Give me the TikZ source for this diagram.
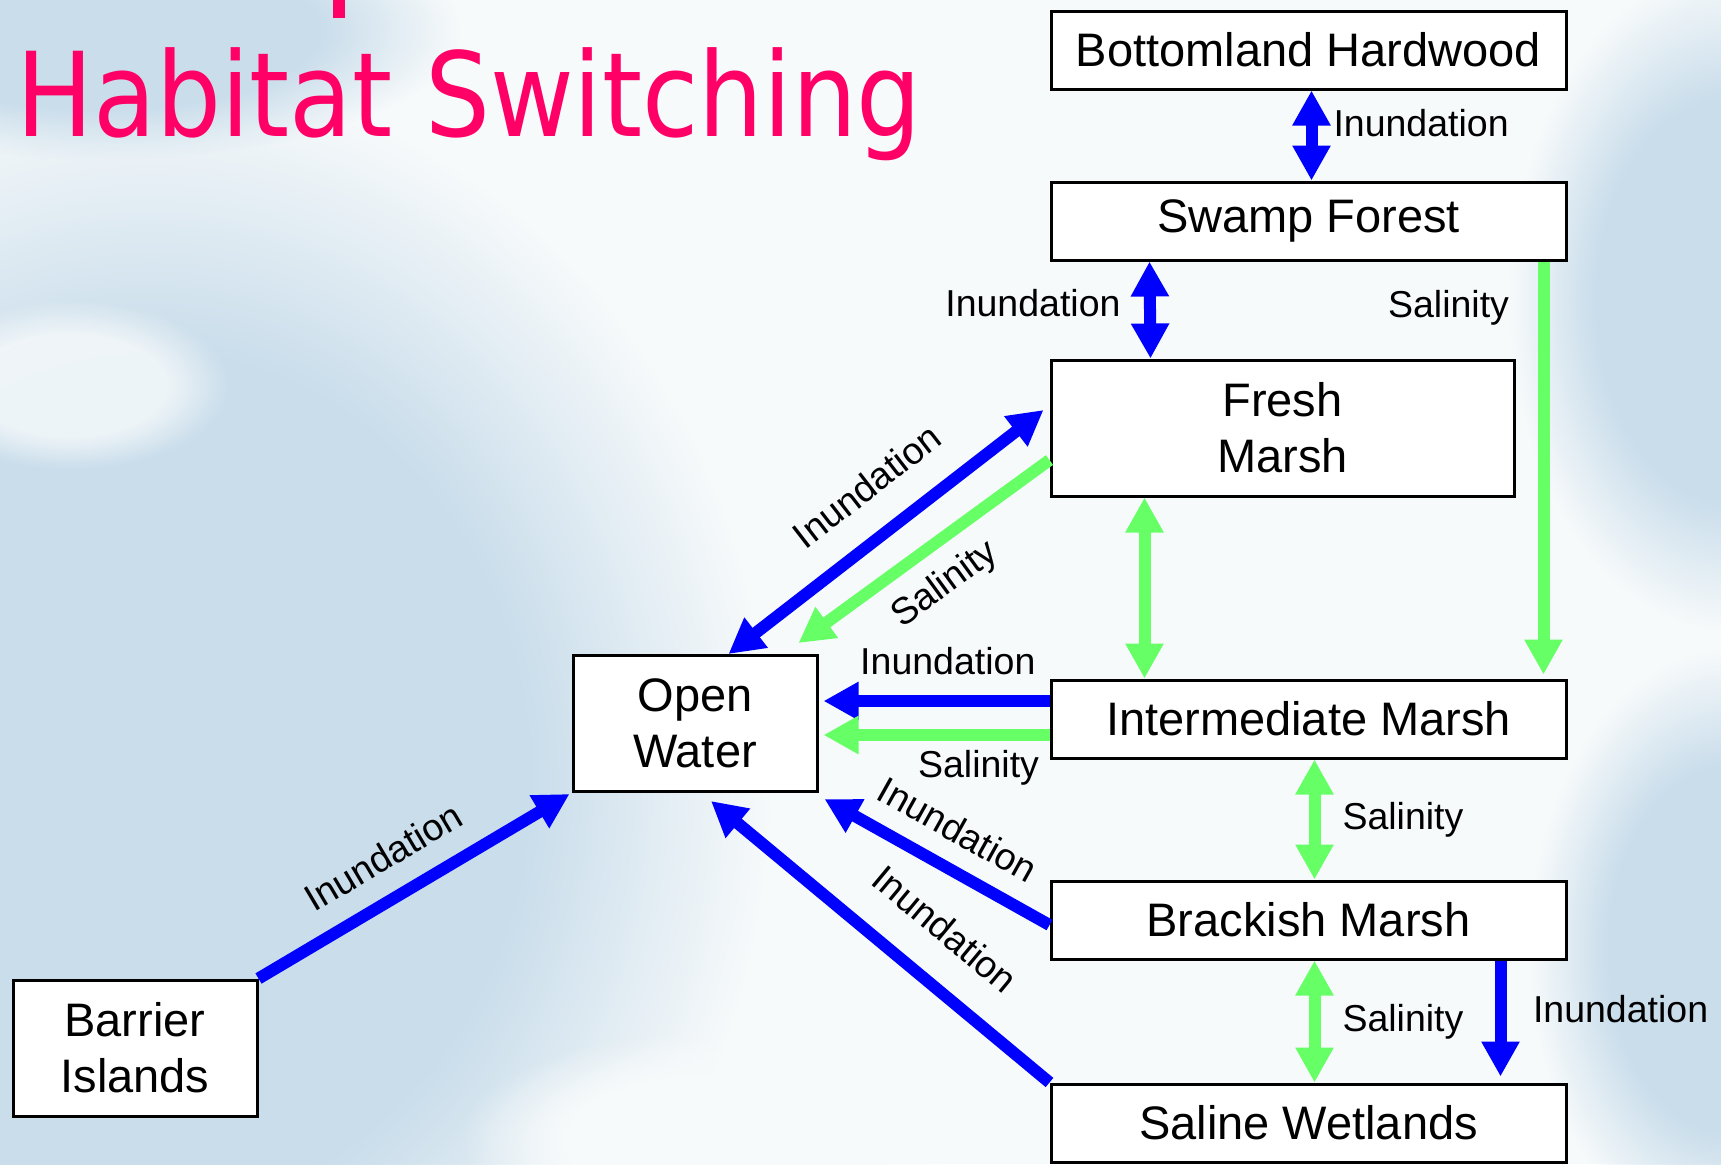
\documentclass[tikz,border=0pt]{standalone}
\usepackage{fontspec}
\setmainfont{Liberation Sans}
\newfontfamily\titlefont[FakeStretch=0.875]{DejaVu Sans}
\usetikzlibrary{arrows.meta,calc,fadings}

\definecolor{inblue}{HTML}{0000FF}
\definecolor{salgreen}{HTML}{66FF66}
\definecolor{titlepink}{HTML}{FF0066}
\definecolor{sky}{HTML}{C9DDEB}
\definecolor{cloud}{HTML}{F7FAFB}
\newcommand{\habfont}{\fontsize{23.5pt}{28pt}\selectfont}
\newcommand{\lblfont}{\fontsize{18.75pt}{22pt}\selectfont}
\pgfdeclareradialshading{blobshade}{\pgfpointorigin}{color(0bp)=(white); color(15bp)=(white); color(25bp)=(black); color(50bp)=(black)}
\pgfdeclarefading{blob}{\pgfuseshading{blobshade}}

\begin{document}
\begin{tikzpicture}[x=0.5pt, y=-0.5pt, >={Triangle[length=17.5pt,width=18pt]},
    box/.style={draw=black, line width=1.5pt, fill=white, inner sep=0pt, align=center, font=\habfont},
    wide/.style={box, minimum width=257.5pt, minimum height=39pt},
    tall/.style={box, minimum width=122pt, minimum height=68pt},
    inund/.style={draw=inblue, line width=6pt},
    sal/.style={draw=salgreen, line width=6pt},
    lbl/.style={inner sep=0pt, font=\lblfont}]
  \useasboundingbox (0,0) rectangle (1721,1164);
  \fill[cloud] (0,0) rectangle (1721,1164);
  \fill[sky, path fading=blob] (150,780) ellipse (620 and 700);
  \fill[sky, path fading=blob] (100,30) ellipse (360 and 130);
  \fill[sky, path fading=blob] (1730,300) ellipse (220 and 330);
  \fill[sky, path fading=blob] (1730,950) ellipse (200 and 300);
  \fill[cloud, opacity=0.8, path fading=blob] (70,385) ellipse (160 and 85);
  \fill[cloud, path fading=blob] (720,1140) ellipse (260 and 110);

  \node[font=\titlefont\fontsize{58.5pt}{60pt}\selectfont, text=titlepink, inner sep=0pt, anchor=base west] (title) at (16,136) {Habitat Switching};
  \fill[titlepink] (333,0) rectangle (345,18);

  \node[wide] (bh) at (1308.5,50) {Bottomland Hardwood};
  \node[wide] (sf) at (1308.5,221) {Swamp Forest};
  \node[box, minimum width=231.5pt, minimum height=68pt] (fm) at (1282.5,428) {Fresh\\Marsh};
  \node[wide] (im) at (1308.5,719) {Intermediate Marsh};
  \node[wide] (bm) at (1308.5,920) {Brackish Marsh};
  \node[wide] (sw) at (1308.5,1123) {Saline Wetlands};
  \node[tall] (ow) at (695,723.5) {Open\\Water};
  \node[tall] (bi) at (135,1048) {Barrier\\Islands};

  \draw[inund, <->] ($(bh.south)+(3,0)$) -- ($(sf.north)+(3,0)$)
    node[lbl, midway, right=8pt, yshift=6.25pt] (lbh) {Inundation};
  \draw[inund, <->] ($(sf.south west)+(100,0)$) -- ($(fm.north west)+(101,0)$)
    node[lbl, midway, left=11.75pt, yshift=3.5pt] (lsf) {Inundation};
  \draw[sal, ->] ($(sf.south east)+(-24,0)$) -- ($(im.north east)+(-24,-4)$)
    node[lbl, pos=0.112, xshift=-47.5pt] (lsi) {Salinity};
  \draw[inund, <->] ($(ow.north west)+(157,0)$) -- ($(fm.west)+(-6,-18)$)
    node[lbl, pos=0.533, sloped, above=14.25pt] (lfo) {Inundation};
  \draw[sal, <-] ($(ow.north east)+(-20,-11)$) -- ($(fm.west)+(0,32)$)
    node[lbl, pos=0.492, sloped, below=8pt] (lfs) {Salinity};
  \draw[sal, <->] ($(fm.south west)+(95,0)$) -- ($(im.north west)+(95,0)$);
  \draw[inund, ->] ($(im.west)+(0,-18)$) -- ($(ow.east)+(5,-22.5)$)
    node[lbl, pos=0.45, above=10pt] (lio) {Inundation};
  \draw[sal, ->] ($(im.west)+(0,16)$) -- ($(ow.east)+(5,11.5)$)
    node[lbl, pos=0.314, below=4.75pt] (lis) {Salinity};
  \draw[sal, <->] ($(im.south)+(6,0)$) -- ($(bm.north)+(6,0)$)
    node[lbl, midway, right=11pt] (lib) {Salinity};
  \draw[sal, <->] ($(bm.south)+(6,0)$) -- ($(sw.north)+(6,0)$)
    node[lbl, midway, right=11pt] (lbs) {Salinity};
  \draw[inund, ->] ($(bm.south east)+(-67,0)$) -- ($(sw.north east)+(-67,-6)$)
    node[lbl, midway, right=13.25pt, yshift=4.75pt] (lbw) {Inundation};
  \draw[inund, <-] ($(ow.south east)+(6,6)$) -- ($(bm.west)+(0,5)$)
    node[lbl, pos=0.509, sloped, above=9.4pt] (lbo) {Inundation};
  \draw[inund, <-] ($(ow.south)+(16,8)$) -- (sw.north west)
    node[lbl, pos=0.594, sloped, above=15.8pt] (lso) {Inundation};
  \draw[inund, ->] (bi.north east) -- ($(ow.south west)+(-2,1)$)
    node[lbl, pos=0.468, sloped, above=10.7pt] (lbio) {Inundation};
\end{tikzpicture}
\end{document}
